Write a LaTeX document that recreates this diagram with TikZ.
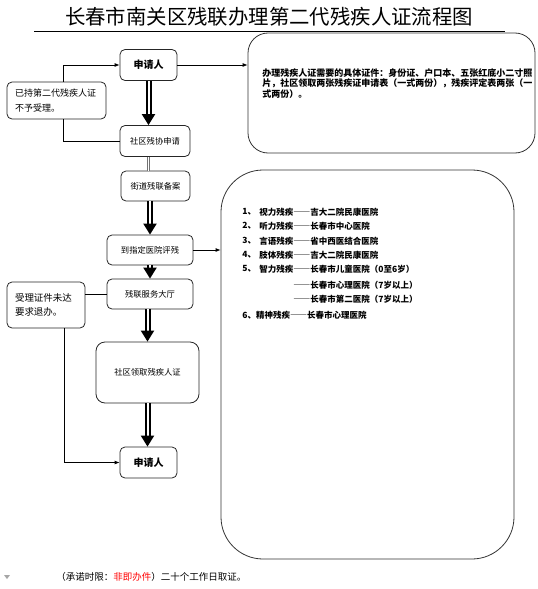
\documentclass[tikz,border=0pt]{standalone}
\usepackage{fontspec}
\setmainfont{Noto Sans CJK SC}
\newfontfamily\fwdash[RawFeature=+fwid]{Noto Sans CJK SC}
\newcommand\dsh{{\fwdash\bfseries ——}}
\usetikzlibrary{arrows.meta}
\begin{document}
\begin{tikzpicture}[x=1pt, y=-1pt, ->, >={Latex[length=5pt,width=4pt]}, line width=0.8pt,
		box/.style={draw=black!85, rounded corners=5pt, inner sep=0pt, align=center, font=\fontsize{8.3}{10}\selectfont},
		item/.style={anchor=west, inner sep=0pt, font=\bfseries\fontsize{8.5}{10}\selectfont},
		dbl/.style={-{Triangle[length=11pt,width=13pt]}, double, double distance=2pt, line width=2pt},
		gline/.style={-, draw=black!55, double, double distance=1pt, line width=1.2pt}]
			\useasboundingbox (0,0) rectangle (538,589);
			
			\node[inner sep=0pt, font=\fontsize{20.4}{24}\selectfont] (title) at (269,17) {长春市南关区残联办理第二代残疾人证流程图};
			\draw[-, line width=0.9pt] (34,31) -- (505,31);
			
			\node[box, minimum width=57pt, minimum height=31pt, font=\bfseries\fontsize{10}{12}\selectfont] (1) at (148.5,65) {申请人};
			\node[box, minimum width=70pt, minimum height=31pt] (2) at (155,141) {社区残协申请};
			\node[box, minimum width=69pt, minimum height=30pt] (3) at (155.5,186) {街道残联备案};
			\node[box, minimum width=86pt, minimum height=30pt] (4) at (150,250) {到指定医院评残};
			\node[box, minimum width=86pt, minimum height=30pt] (5) at (150,294) {残联服务大厅};
			\node[box, rounded corners=9pt, minimum width=103pt, minimum height=61pt] (6) at (147.5,372.5) {社区领取残疾人证};
			\node[box, minimum width=57pt, minimum height=31pt, font=\bfseries\fontsize{10}{12}\selectfont] (7) at (148.5,462.5) {申请人};
			
			\node[box, text width=83pt, inner xsep=8pt, minimum height=37pt, align=left, font=\fontsize{9}{15}\selectfont] (8) at (56.5,100.5) {已持第二代残疾人证\\不予受理。};
			\node[box, text width=62pt, inner xsep=8pt, minimum height=46pt, align=left, font=\fontsize{9.5}{14}\selectfont] (9) at (46,305) {受理证件未达\\要求退办。};
			
			\node[draw=black!80, rounded corners=20pt, minimum width=287pt, minimum height=120pt] (10) at (391.5,93) {};
			\node[draw=black!80, rounded corners=42pt, minimum width=293pt, minimum height=389pt] (11) at (367.5,364.5) {};
			
			\node[anchor=north west, inner sep=0pt, align=left, font=\bfseries\fontsize{9}{10.7}\selectfont] (req) at (262,68) {办理残疾人证需要的具体证件：身份证、户口本、五张红底小二寸照\\片，社区领取两张残疾证申请表（一式两份），残疾评定表两张（一\\式两份）。};
			
			\foreach \n/\y/\a/\b in {1/212/视力残疾/吉大二院民康医院, 2/226/听力残疾/长春市中心医院, 3/241/言语残疾/省中西医结合医院, 4/255/肢体残疾/吉大二院民康医院, 5/269/智力残疾/长春市儿童医院（0至6岁）} {
				\node[item] (n\n) at (242,\y) {\n、};
				\node[item] (t\n) at (259,\y) {\a\dsh{}\b};
			}
			\node[item] (t5b) at (293,285) {\dsh{}长春市心理医院（7岁以上）};
			\node[item] (t5c) at (293,299) {\dsh{}长春市第二医院（7岁以上）};
			\node[item] (t6) at (242,315) {6、精神残疾\dsh{}长春市心理医院};
			
			\node[anchor=west, inner sep=0pt, font=\fontsize{9.5}{11}\selectfont] (note) at (56,577) {（承诺时限：\textcolor{red}{非即办件}）二十个工作日取证。};
			\fill[black!35] (4,575) -- (10,575) -- (7,579) -- cycle;
			
			\foreach \from / \to in {1/2,6/7}
				\path (\from.south) edge[dbl] (\from.south |- \to.north);
			\foreach \from / \to in {3/4,4/5,5/6}
				\path (\to.north |- \from.south) edge[dbl] (\to.north);
			\path (1.south |- 2.south) edge[gline] (1.south |- 3.north);
			
			\draw ([xshift=6.5pt]8.north) |- (1.west);
			\draw[-] ([xshift=6.5pt]8.south) |- (2.west);
			\draw (1.east) -- (1.east -| 10.west);
			\draw (4.east) -- (4.east -| 11.west);
			\draw[-] (9.east |- 5.west) -- (5.west);
			\draw ([xshift=18pt]9.south) |- (7.west);
		\end{tikzpicture}
\end{document}
